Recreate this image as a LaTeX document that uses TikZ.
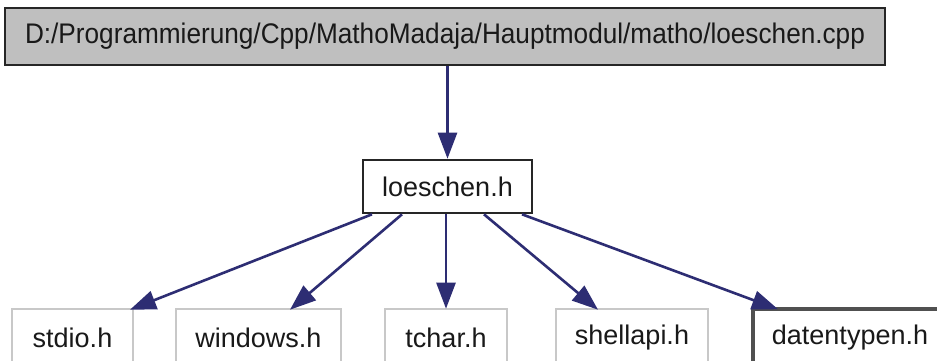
\documentclass[tikz,border=0pt]{standalone}
\usepackage{fontspec}
\setmainfont{Liberation Sans}
\usetikzlibrary{arrows.meta,calc}
\definecolor{edgeblue}{RGB}{45,45,115}
\definecolor{topfill}{RGB}{191,191,191}
\definecolor{lightborder}{RGB}{200,200,200}
\definecolor{darkborder}{RGB}{80,80,80}
\begin{document}
\begin{tikzpicture}[x=1pt,y=-1pt,
  every node/.style={font=\fontsize{27}{30}\selectfont, text=black!90, inner sep=0pt},
  filebox/.style={draw=black!85, line width=2.6pt, minimum height=53pt},
  topbox/.style={filebox, fill=topfill, minimum height=57pt},
  extbox/.style={draw=lightborder, line width=2.6pt, minimum height=57pt},
  docbox/.style={draw=darkborder, line width=3.5pt, minimum height=57pt},
  dep/.style={draw=edgeblue, line width=2.6pt, -{Triangle[length=26pt,width=19pt]}}]
\useasboundingbox (0,0) rectangle (937,360);
\clip (0,0) rectangle (937,360);
\fill[white] (0,0) rectangle (937,360);
\node[topbox, minimum width=880pt] (top) at (445,36.5) {\scalebox{0.97}[1.05]{D:/Programmierung/Cpp/MathoMadaja/Hauptmodul/matho/loeschen.cpp}};
\node[filebox, minimum width=169pt] (lo) at (447.5,186.5) {loeschen.h};
\node[extbox, minimum width=121pt] (stdio) at (72.5,337.5) {stdio.h};
\node[extbox, minimum width=165pt] (win) at (258.5,337.5) {windows.h};
\node[extbox, minimum width=122pt] (tchar) at (446,337.5) {tchar.h};
\node[extbox, minimum width=152pt] (shell) at (632,337.5) {shellapi.h};
\node[docbox, minimum width=194pt] (dt) at (850,337.5) {datentypen.h};
\draw[dep] (top.south -| lo.north) -- (lo.north);
\draw[dep] ($(lo.south)+(-75.5,0)$) -- ($(stdio.north)+(57.5,2)$);
\draw[dep] ($(lo.south)+(-45.5,0)$) -- ($(win.north)+(31.5,2)$);
\draw[dep] (lo.south -| tchar.north) -- ($(tchar.north)+(0,1)$);
\draw[dep] ($(lo.south)+(36.5,0)$) -- ($(shell.north)+(-34,2)$);
\draw[dep] ($(lo.south)+(74.5,0)$) -- ($(dt.north)+(-72,2)$);
\end{tikzpicture}
\end{document}
